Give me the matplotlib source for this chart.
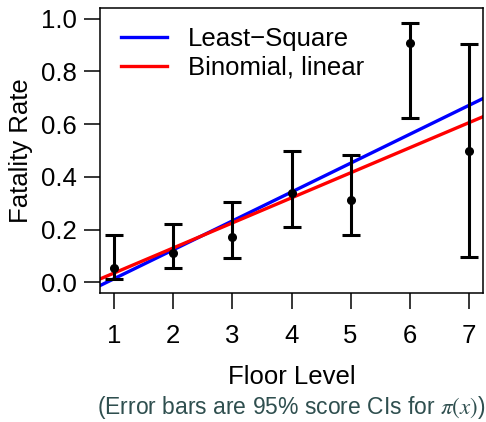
import matplotlib
matplotlib.use("Agg")
import matplotlib.pyplot as plt

plt.rcParams['font.family'] = ['Liberation Sans', 'DejaVu Sans']
plt.rcParams['mathtext.fontset'] = 'stix'

# data
floor = [1, 2, 3, 4, 5, 6, 7]
rate = [0.054, 0.111, 0.173, 0.340, 0.312, 0.909, 0.498]
ci_low = [0.013, 0.053, 0.092, 0.211, 0.178, 0.623, 0.095]
ci_high = [0.178, 0.222, 0.306, 0.500, 0.484, 0.983, 0.905]

# fitted lines (intercept, slope)
ls_fit = (-0.095, 0.1094)
binom_fit = (-0.059, 0.0949)

fig = plt.figure(figsize=(4.86, 4.22), dpi=100)
ax = fig.add_axes([0.2058, 0.3057, 0.788, 0.6753])

yerr = [[r - lo for r, lo in zip(rate, ci_low)], [hi - r for r, hi in zip(rate, ci_high)]]
ax.errorbar(floor, rate, yerr=yerr, fmt='o', color='black', ms=5.5,
            elinewidth=2.2, capsize=6.5, capthick=2.2, zorder=3)

ax.axline((0, ls_fit[0]), slope=ls_fit[1], color='blue', lw=2.4, label='Least\u2212Square')
ax.axline((0, binom_fit[0]), slope=binom_fit[1], color='red', lw=2.4, label='Binomial, linear')

ax.set_xlim(0.76, 7.24)
ax.set_ylim(-0.04, 1.04)
ax.set_xticks(floor)
ax.set_yticks([0.0, 0.2, 0.4, 0.6, 0.8, 1.0])
ax.set_yticklabels(['0.0', '0.2', '0.4', '0.6', '0.8', '1.0'])
ax.tick_params(axis='both', direction='out', length=11.5, width=1.1, labelsize=18.5)
ax.tick_params(axis='x', pad=11)
ax.tick_params(axis='y', pad=5)
for s in ax.spines.values():
    s.set_linewidth(1.1)

ax.set_ylabel('Fatality Rate', fontsize=18.5)
ax.yaxis.set_label_coords(-0.175, 0.5)
ax.set_xlabel('Floor Level', fontsize=18.5, labelpad=12)

ax.legend(loc='upper left', bbox_to_anchor=(0.055, 0.935), frameon=False,
          fontsize=18.5, handlelength=1.8, handletextpad=0.8,
          labelspacing=0.2, borderpad=0, borderaxespad=0)

fig.text(0.6, 0.034, r'(Error bars are 95% score CIs for $\pi(x)$)',
         ha='center', va='center', fontsize=16.5, color='#2f4f4f')

fig.savefig('out.png', dpi=100)
